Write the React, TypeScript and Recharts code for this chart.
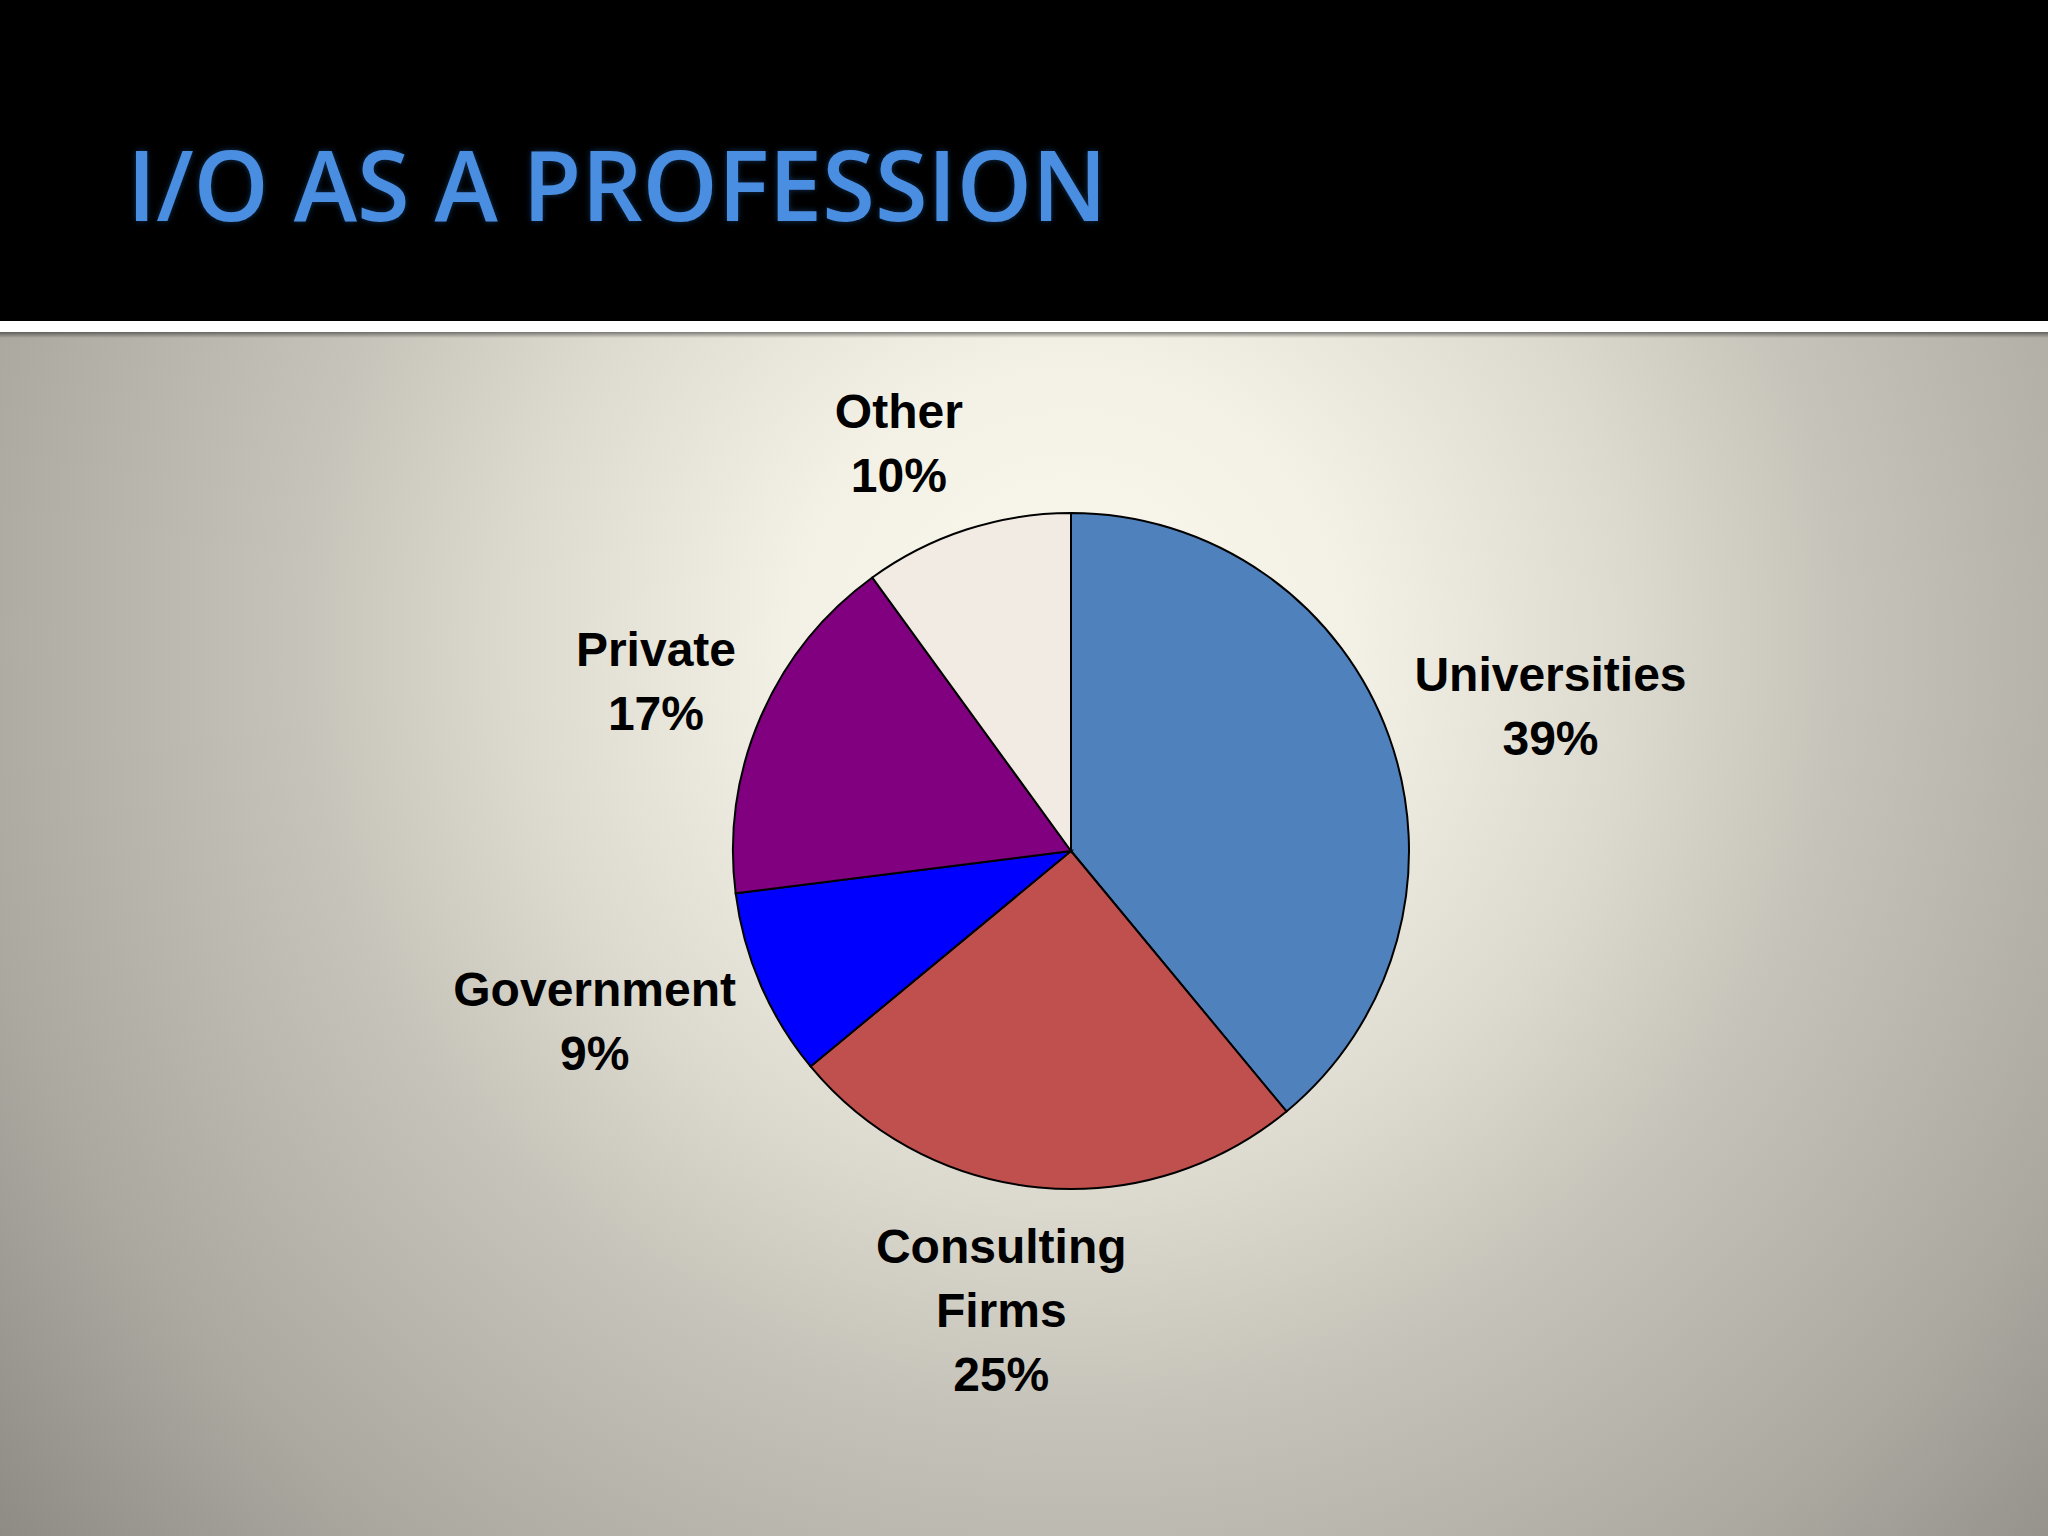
import { PieChart, Pie, Cell } from "recharts";

const categories = ["Universities", "Consulting Firms", "Government", "Private", "Other"];
const shares = [39, 25, 9, 17, 10];
const colors = ["#4f81bd", "#c0504d", "#0000ff", "#800080", "#f2ebe4"];

const data = categories.map((name, i) => ({ name, value: shares[i] }));

const W = 2048;
const H = 1536;
const CX = 1071;
const CY = 851;
const R = 338;
const FONT = "'Liberation Sans', Arial, sans-serif";
const FS = 48;
const LH = 64;
const GAP = 27;

let ctx: CanvasRenderingContext2D | null = null;
function textWidth(s: string) {
  if (!ctx) ctx = document.createElement("canvas").getContext("2d");
  if (!ctx) return s.length * FS * 0.6;
  ctx.font = `bold ${FS}px ${FONT}`;
  return ctx.measureText(s).width;
}

// long names wrap onto two lines, like the original slide
function splitName(name: string) {
  return name.length > 12 ? name.split(" ") : [name];
}

const renderLabel = (props: any) => {
  const { cx, cy, midAngle, outerRadius, index } = props;
  const rad = Math.PI / 180;
  const dx = Math.cos(midAngle * rad);
  const dy = -Math.sin(midAngle * rad);
  const lines = [...splitName(categories[index]), `${shares[index]}%`];
  const a = Math.max(...lines.map(textWidth)) / 2;
  const b = (lines.length * LH) / 2;
  const clamp = (v: number) => Math.max(-1, Math.min(1, v));
  const x = cx + dx * (outerRadius + GAP) + a * clamp(dx * 3);
  const y = cy + dy * (outerRadius + GAP) + b * dy;
  const first = y - ((lines.length - 1) * LH) / 2 + 17;
  return (
    <text
      key={`lbl-${index}`}
      x={x}
      y={first}
      textAnchor="middle"
      fontFamily={FONT}
      fontWeight="bold"
      fontSize={FS}
      fill="#000"
    >
      {lines.map((l, i) => (
        <tspan key={i} x={x} y={first + i * LH}>
          {l}
        </tspan>
      ))}
    </text>
  );
};

export default function App() {
  return (
    <div style={{ position: "absolute", left: 0, top: 0, width: W, height: H, overflow: "hidden" }}>
      <svg width={W} height={H} style={{ position: "absolute", left: 0, top: 0 }}>
        <defs>
          <radialGradient id="bg" gradientUnits="userSpaceOnUse" cx={1071} cy={640} r={1400}>
            <stop offset="0" stopColor="#fbf9ee" />
            <stop offset="0.2" stopColor="#f3f1e5" />
            <stop offset="0.4" stopColor="#dcd9ce" />
            <stop offset="0.55" stopColor="#c6c3ba" />
            <stop offset="0.8" stopColor="#aba8a0" />
            <stop offset="1" stopColor="#8e8b85" />
          </radialGradient>
          <linearGradient id="shade" x1="0" y1="0" x2="0" y2="1">
            <stop offset="0" stopColor="#000" stopOpacity="0.45" />
            <stop offset="1" stopColor="#000" stopOpacity="0" />
          </linearGradient>
          <filter id="glow" x="-5%" y="-20%" width="110%" height="140%">
            <feGaussianBlur in="SourceAlpha" stdDeviation="3" result="blur" />
            <feFlood floodColor="#1d4f8f" floodOpacity="0.6" />
            <feComposite in2="blur" operator="in" result="halo" />
            <feMerge>
              <feMergeNode in="halo" />
              <feMergeNode in="SourceGraphic" />
            </feMerge>
          </filter>
        </defs>
        <rect x={0} y={0} width={W} height={H} fill="url(#bg)" />
        <rect x={0} y={0} width={W} height={321} fill="#000" />
        <rect x={0} y={321} width={W} height={11} fill="#fff" />
        <rect x={0} y={332} width={W} height={6} fill="url(#shade)" />
        <text
          x={127}
          y={221}
          fontFamily="'Open Sans', sans-serif"
          fontWeight={600}
          fontSize={98}
          fill="#4a8ee0"
          textLength={980}
          lengthAdjust="spacingAndGlyphs"
          filter="url(#glow)"
        >
          I/O AS A PROFESSION
        </text>
      </svg>
      <div style={{ position: "absolute", left: 0, top: 0 }}>
        <PieChart width={W} height={H} margin={{ top: 0, right: 0, bottom: 0, left: 0 }}>
          <Pie
            data={data}
            dataKey="value"
            nameKey="name"
            cx={CX}
            cy={CY}
            outerRadius={R}
            startAngle={90}
            endAngle={-270}
            stroke="#000"
            strokeWidth={2}
            label={renderLabel}
            labelLine={false}
            isAnimationActive={false}
          >
            {data.map((d, i) => (
              <Cell key={d.name} fill={colors[i]} />
            ))}
          </Pie>
        </PieChart>
      </div>
    </div>
  );
}
